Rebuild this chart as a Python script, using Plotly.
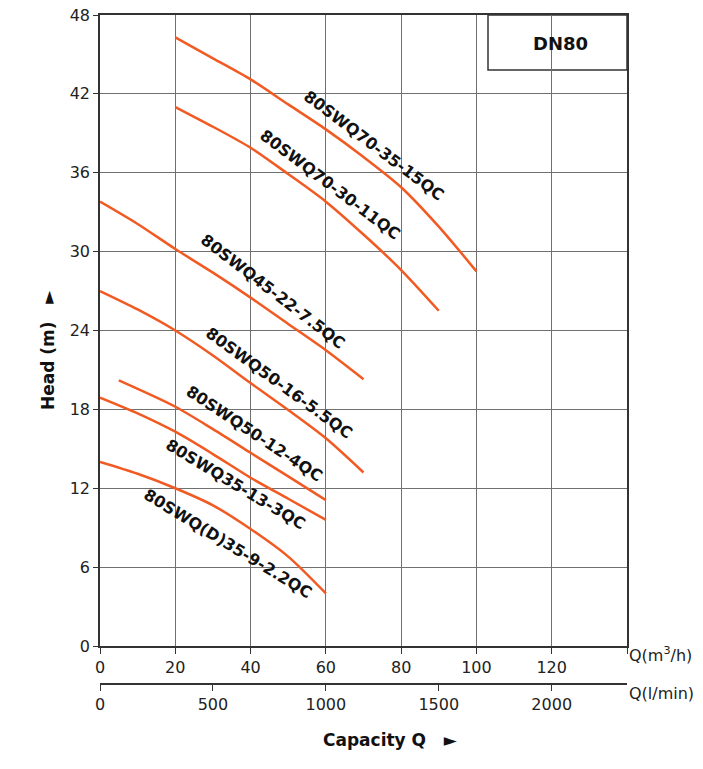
import plotly.graph_objects as go

# ---- data ----
q1 = [20, 30, 40, 50, 60, 70, 80, 90, 100]
h1 = [46.3, 44.7, 43.1, 41.2, 39.3, 37.2, 34.9, 31.9, 28.5]
q2 = [20, 30, 40, 50, 60, 70, 80, 90]
h2 = [41.0, 39.5, 37.9, 35.9, 33.8, 31.3, 28.6, 25.5]
q3 = [0, 10, 20, 30, 40, 50, 60, 70]
h3 = [33.8, 32.1, 30.2, 28.4, 26.5, 24.5, 22.5, 20.3]
q4 = [0, 10, 20, 30, 40, 50, 60, 70]
h4 = [27.0, 25.6, 24.0, 22.1, 20.0, 17.95, 15.8, 13.2]
q5 = [5, 20, 30, 40, 50, 60]
h5 = [20.2, 18.2, 16.5, 14.7, 12.9, 11.1]
q6 = [0, 10, 20, 30, 40, 50, 60]
h6 = [18.9, 17.7, 16.3, 14.6, 12.8, 11.2, 9.6]
q7 = [0, 10, 20, 30, 40, 50, 60]
h7 = [14.0, 13.1, 12.0, 10.7, 8.9, 6.8, 4.0]

names = ["80SWQ70-35-15QC", "80SWQ70-30-11QC", "80SWQ45-22-7.5QC",
         "80SWQ50-16-5.5QC", "80SWQ50-12-4QC", "80SWQ35-13-3QC",
         "80SWQ(D)35-9-2.2QC"]

x_ticks = [0, 20, 40, 60, 80, 100, 120, 140]
x_ticktext = ["0", "20", "40", "60", "80", "100", "120", " "]
y_ticks = [0, 6, 12, 18, 24, 30, 36, 42, 48]
lmin_ticks = [0, 500, 1000, 1500, 2000]

# ---- styling / label placement ----
ORANGE = "#F15A22"
FONT = "DejaVu Sans"
GRID = "#707070"
label_pos = [(72.8, 38.1, 37), (61.1, 35.1, 37), (46.0, 27.0, 37.5),
             (47.8, 20.0, 36), (41.0, 16.2, 33.5), (36.1, 12.3, 31),
             (33.9, 7.76, 31.5)]

series = [(q1, h1), (q2, h2), (q3, h3), (q4, h4), (q5, h5), (q6, h6), (q7, h7)]

fig = go.Figure()
for (q, h), n in zip(series, names):
    fig.add_trace(go.Scatter(x=q, y=h, mode="lines", name=n,
                             line=dict(color=ORANGE, width=2.5, shape="spline", smoothing=0.8),
                             showlegend=False, hoverinfo="x+y+name"))

# invisible trace on the l/min axis
fig.add_trace(go.Scatter(x=[0, 2000], y=[0, 0], xaxis="x2", mode="lines",
                         line=dict(width=0), showlegend=False, hoverinfo="skip"))

annotations = []
for (x, y, a), n in zip(label_pos, names):
    annotations.append(dict(x=x, y=y, xref="x", yref="y", text="<b>" + n + "</b>",
                            textangle=a, showarrow=False,
                            font=dict(family=FONT, size=16, color="#111")))

annotations += [
    dict(x=(560 - 100) / 527 * 140, y=(646 - 43) / 631 * 48, xref="x", yref="y",
         text="<b>DN80</b>", showarrow=False, font=dict(family=FONT, size=18, color="#111")),
    dict(x=627, y=667, xref="paper", yref="paper", text="Q(m<sup>3</sup>/h)", showarrow=False,
         font=dict(family=FONT, size=16, color="#222"), xanchor="left"),
    dict(x=627, y=705, xref="paper", yref="paper", text="Q(l/min)", showarrow=False,
         font=dict(family=FONT, size=16, color="#222"), xanchor="left"),
    dict(x=390, y=752, xref="paper", yref="paper", text="<b>Capacity Q   ►</b>", showarrow=False,
         font=dict(family=FONT, size=17, color="#111")),
    dict(x=36, y=350, xref="paper", yref="paper", text="<b>Head (m)   ►</b>", showarrow=False,
         textangle=-90, font=dict(family=FONT, size=17, color="#111")),
]

# figure pixel coordinates (page body margin removed by post_script)
W, H = 703, 769
L, R, T, B = 100, 703 - 627, 15, 40
pw, ph = W - L - R, H - T - B
for a in annotations:
    if a["xref"] == "paper":
        a["x"] = (a["x"] - L) / pw
        a["y"] = (H - B - a["y"]) / ph

y_dom0 = (H - B - 646) / ph
x2_pos = (H - B - 684) / ph

tick_font = dict(family=FONT, size=16, color="#222")
fig.update_layout(
    width=W, height=H,
    margin=dict(l=L, r=R, t=T, b=B),
    paper_bgcolor="white", plot_bgcolor="white",
    font=dict(family=FONT, size=16, color="#222"),
    xaxis=dict(range=[0, 140], tickvals=x_ticks, ticktext=x_ticktext,
               showgrid=True, gridcolor=GRID, gridwidth=1,
               showline=True, linecolor="#333", linewidth=1.5, mirror=True,
               ticks="outside", ticklen=6, tickcolor="#333", zeroline=False,
               anchor="y", tickfont=tick_font, automargin=False,
               ticklabeloverflow="allow"),
    yaxis=dict(range=[0, 48], tickvals=y_ticks, domain=[y_dom0, 1],
               showgrid=True, gridcolor=GRID, gridwidth=1,
               showline=True, linecolor="#333", linewidth=1.5, mirror=True,
               ticks="outside", ticklen=5, tickcolor="#333", zeroline=False,
               tickfont=tick_font, automargin=False, ticklabeloverflow="allow"),
    xaxis2=dict(range=[0, 140 * 1000 / 60], tickvals=lmin_ticks, overlaying="x",
                anchor="free", position=x2_pos, side="bottom",
                showgrid=False, showline=True, linecolor="#333", linewidth=1.5,
                ticks="outside", ticklen=6, tickcolor="#333", zeroline=False,
                tickfont=tick_font, automargin=False, ticklabeloverflow="allow"),
    annotations=annotations,
    shapes=[dict(type="rect", xref="x", yref="y",
                 x0=(488 - 100) / 527 * 140, x1=140,
                 y0=(646 - 70) / 631 * 48, y1=48,
                 line=dict(color="#333", width=1.5), fillcolor="white", layer="below")],
)

fig.write_html("out.html", config={"displayModeBar": False},
               post_script="document.body.style.margin='0';document.body.style.overflow='hidden';")
